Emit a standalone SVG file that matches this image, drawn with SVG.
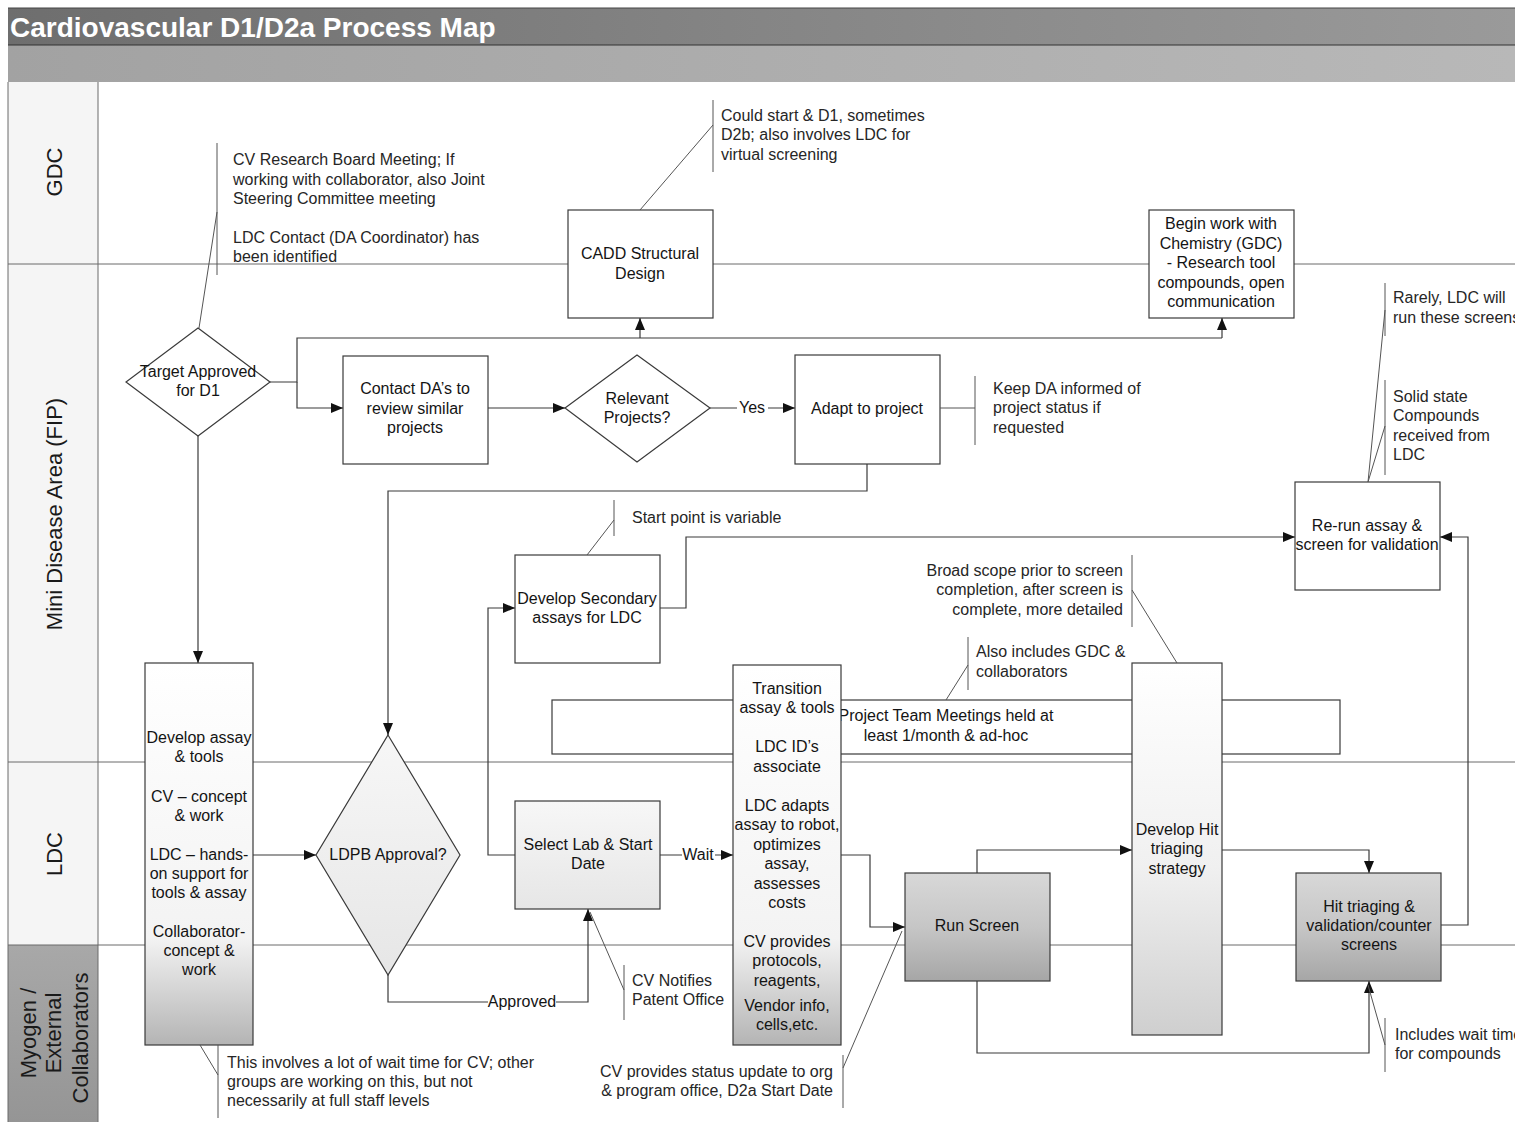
<svg xmlns="http://www.w3.org/2000/svg" width="1515" height="1122" viewBox="0 0 1515 1122">
<defs>
<style>
.t{font-family:"Liberation Sans",Arial,sans-serif;font-size:16px;fill:#141414;text-anchor:middle}
.a{font-family:"Liberation Sans",Arial,sans-serif;font-size:16px;fill:#262626}
.e{text-anchor:end}
.lane{font-family:"Liberation Sans",Arial,sans-serif;font-size:22px;fill:#1a1a1a;text-anchor:middle}
.box{stroke:#3a3a3a;stroke-width:1.2}
.c{fill:none;stroke:#3a3a3a;stroke-width:1.2}
.ca{fill:none;stroke:#3a3a3a;stroke-width:1.2;marker-end:url(#ah)}
.n{fill:none;stroke:#555;stroke-width:1}
.ll{stroke:#6a6a6a;stroke-width:1}
</style>
<marker id="ah" markerUnits="userSpaceOnUse" markerWidth="14" markerHeight="12" refX="12" refY="5" orient="auto">
<path d="M0,0 L12,5 L0,10 z" fill="#111"/>
</marker>
<linearGradient id="hdr1" x1="0" y1="0" x2="1" y2="0"><stop offset="0" stop-color="#6e6e6e"/><stop offset="0.5" stop-color="#858585"/><stop offset="1" stop-color="#9a9a9a"/></linearGradient>
<linearGradient id="hdr2" x1="0" y1="0" x2="1" y2="0"><stop offset="0" stop-color="#a2a2a2"/><stop offset="1" stop-color="#b8b8b8"/></linearGradient>
<linearGradient id="tall" x1="0" y1="0" x2="0" y2="1"><stop offset="0" stop-color="#ffffff"/><stop offset="0.72" stop-color="#f3f3f3"/><stop offset="1" stop-color="#b4b4b4"/></linearGradient>
<linearGradient id="tall2" x1="0" y1="0" x2="0" y2="1"><stop offset="0" stop-color="#ffffff"/><stop offset="0.55" stop-color="#f0f0f0"/><stop offset="1" stop-color="#cfcfcf"/></linearGradient>
<linearGradient id="gray" x1="0" y1="0" x2="0" y2="1"><stop offset="0" stop-color="#d8d8d8"/><stop offset="0.5" stop-color="#c6c6c6"/><stop offset="1" stop-color="#a6a6a6"/></linearGradient>
<linearGradient id="lite" x1="0" y1="0" x2="0" y2="1"><stop offset="0" stop-color="#f7f7f7"/><stop offset="1" stop-color="#e6e6e6"/></linearGradient>
<linearGradient id="myo" x1="0" y1="0" x2="0" y2="1"><stop offset="0" stop-color="#a8a8a8"/><stop offset="1" stop-color="#959595"/></linearGradient>
</defs>
<rect x="0" y="0" width="1515" height="1122" fill="#fff"/>

<g id="header">
<rect x="8" y="8" width="1507" height="37" fill="url(#hdr1)"/>
<rect x="8" y="45" width="1507" height="37" fill="url(#hdr2)"/>
<line x1="8" y1="45" x2="1515" y2="45" stroke="#333" stroke-width="1"/>
<line x1="8" y1="8" x2="1515" y2="8" stroke="#444" stroke-width="1"/>
<text x="10" y="37" font-family="Liberation Sans,Arial,sans-serif" font-size="28" font-weight="bold" fill="#fff">Cardiovascular D1/D2a Process Map</text>
</g>

<g id="lanes">
<rect x="8" y="82" width="90" height="863" fill="#f5f5f5"/>
<rect x="8" y="945" width="90" height="177" fill="url(#myo)"/>
<line class="ll" x1="8" y1="82" x2="8" y2="1122"/>
<line class="ll" x1="98" y1="82" x2="98" y2="1122"/>
<line class="ll" x1="8" y1="264" x2="1515" y2="264"/>
<line class="ll" x1="8" y1="762" x2="1515" y2="762"/>
<line class="ll" x1="8" y1="945" x2="1515" y2="945"/>
<text class="lane" transform="translate(62,172) rotate(-90)">GDC</text>
<text class="lane" font-size="23.5" transform="translate(62,514) rotate(-90)">Mini Disease Area (FIP)</text>
<text class="lane" transform="translate(62,854) rotate(-90)">LDC</text>
<text class="lane" font-size="21" transform="translate(36,1033) rotate(-90)">Myogen /</text>
<text class="lane" font-size="21" transform="translate(61,1033) rotate(-90)">External</text>
<text class="lane" font-size="21" transform="translate(88,1038) rotate(-90)">Collaborators</text>
</g>

<g id="project-team-meetings">
<rect class="box" x="552" y="700" width="788" height="54" fill="#fff"/>
<text class="t" x="946" y="721">Project Team Meetings held at</text>
<text class="t" x="946" y="741">least 1/month &amp; ad-hoc</text>
</g>

<g id="connectors">
<polyline class="c" points="270,382 297,382 297,338 1222,338"/>
<line class="ca" x1="1222" y1="338" x2="1222" y2="318"/>
<line class="ca" x1="640" y1="338" x2="640" y2="318"/>
<polyline class="ca" points="297,382 297,408 343,408"/>
<line class="ca" x1="488" y1="408" x2="565" y2="408"/>
<line class="ca" x1="710" y1="408" x2="795" y2="408"/>
<polyline class="ca" points="867,464 867,491 388,491 388,735"/>
<line class="ca" x1="198" y1="436" x2="198" y2="663"/>
<line class="ca" x1="253" y1="855" x2="316" y2="855"/>
<polyline class="ca" points="388,975 388,1002 588,1002 588,909"/>
<polyline class="ca" points="515,855 488,855 488,608 515,608"/>
<line class="ca" x1="660" y1="855" x2="733" y2="855"/>
<polyline class="ca" points="660,608 686,608 686,537 1295,537"/>
<polyline class="ca" points="841,855 870,855 870,927 905,927"/>
<polyline class="ca" points="977,873 977,850 1132,850"/>
<polyline class="ca" points="1222,850 1369,850 1369,873"/>
<polyline class="ca" points="977,981 977,1053 1369,1053 1369,981"/>
<polyline class="ca" points="1441,925 1468,925 1468,537 1440,537"/>
<rect x="737" y="399" width="31" height="18" fill="#fff"/>
<text class="t" x="752" y="413">Yes</text>
<rect x="682" y="846" width="33" height="18" fill="#fff"/>
<text class="t" x="698" y="860">Wait</text>
<rect x="488" y="993" width="68" height="18" fill="#fff"/>
<text class="t" x="522" y="1007">Approved</text>
</g>

<g id="target-approved">
<polygon class="box" points="198,328 270,382 198,436 126,382" fill="#fff"/>
<text class="t" x="198" y="377">Target Approved</text>
<text class="t" x="198" y="396">for D1</text>
</g>
<g id="contact-da">
<rect class="box" x="343" y="356" width="145" height="108" fill="#fff"/>
<text class="t" x="415" y="394">Contact DA’s to</text>
<text class="t" x="415" y="414">review similar</text>
<text class="t" x="415" y="433">projects</text>
</g>
<g id="relevant-projects">
<polygon class="box" points="637,355 710,408 637,462 565,408" fill="#fff"/>
<text class="t" x="637" y="404">Relevant</text>
<text class="t" x="637" y="423">Projects?</text>
</g>
<g id="adapt-to-project">
<rect class="box" x="795" y="355" width="145" height="109" fill="#fff"/>
<text class="t" x="867" y="414">Adapt to project</text>
</g>
<g id="cadd">
<rect class="box" x="568" y="210" width="145" height="108" fill="#fff"/>
<text class="t" x="640" y="259">CADD Structural</text>
<text class="t" x="640" y="279">Design</text>
</g>
<g id="begin-work">
<rect class="box" x="1149" y="210" width="145" height="108" fill="#fff"/>
<text class="t" x="1221" y="229">Begin work with</text>
<text class="t" x="1221" y="249">Chemistry (GDC)</text>
<text class="t" x="1221" y="268">- Research tool</text>
<text class="t" x="1221" y="288">compounds, open</text>
<text class="t" x="1221" y="307">communication</text>
</g>
<g id="develop-secondary">
<rect class="box" x="515" y="555" width="145" height="108" fill="#fff"/>
<text class="t" x="587" y="604">Develop Secondary</text>
<text class="t" x="587" y="623">assays for LDC</text>
</g>
<g id="re-run-assay">
<rect class="box" x="1295" y="482" width="145" height="108" fill="#fff"/>
<text class="t" x="1367" y="531">Re-run assay &amp;</text>
<text class="t" x="1367" y="550">screen for validation</text>
</g>
<g id="develop-assay">
<rect class="box" x="145" y="663" width="108" height="382" fill="url(#tall)"/>
<text class="t" x="199" y="743">Develop assay</text>
<text class="t" x="199" y="762">&amp; tools</text>
<text class="t" x="199" y="802">CV – concept</text>
<text class="t" x="199" y="821">&amp; work</text>
<text class="t" x="199" y="860">LDC – hands-</text>
<text class="t" x="199" y="879">on support for</text>
<text class="t" x="199" y="898">tools &amp; assay</text>
<text class="t" x="199" y="937">Collaborator-</text>
<text class="t" x="199" y="956">concept &amp;</text>
<text class="t" x="199" y="975">work</text>
</g>
<g id="ldpb-approval">
<polygon class="box" points="388,735 460,855 388,975 316,855" fill="url(#lite)"/>
<text class="t" x="388" y="860">LDPB Approval?</text>
</g>
<g id="select-lab">
<rect class="box" x="515" y="801" width="145" height="108" fill="url(#lite)"/>
<text class="t" x="588" y="850">Select Lab &amp; Start</text>
<text class="t" x="588" y="869">Date</text>
</g>
<g id="transition">
<rect class="box" x="733" y="665" width="108" height="380" fill="url(#tall)"/>
<text class="t" x="787" y="694">Transition</text>
<text class="t" x="787" y="713">assay &amp; tools</text>
<text class="t" x="787" y="752">LDC ID’s</text>
<text class="t" x="787" y="772">associate</text>
<text class="t" x="787" y="811">LDC adapts</text>
<text class="t" x="787" y="830">assay to robot,</text>
<text class="t" x="787" y="850">optimizes</text>
<text class="t" x="787" y="869">assay,</text>
<text class="t" x="787" y="889">assesses</text>
<text class="t" x="787" y="908">costs</text>
<text class="t" x="787" y="947">CV provides</text>
<text class="t" x="787" y="966">protocols,</text>
<text class="t" x="787" y="986">reagents,</text>
<text class="t" x="787" y="1011">Vendor info,</text>
<text class="t" x="787" y="1030">cells,etc.</text>
</g>
<g id="develop-hit">
<rect class="box" x="1132" y="663" width="90" height="372" fill="url(#tall2)"/>
<text class="t" x="1177" y="835">Develop Hit</text>
<text class="t" x="1177" y="854">triaging</text>
<text class="t" x="1177" y="874">strategy</text>
</g>
<g id="run-screen">
<rect class="box" x="905" y="873" width="145" height="108" fill="url(#gray)"/>
<text class="t" x="977" y="931">Run Screen</text>
</g>
<g id="hit-triaging">
<rect class="box" x="1296" y="873" width="145" height="108" fill="url(#gray)"/>
<text class="t" x="1369" y="912">Hit triaging &amp;</text>
<text class="t" x="1369" y="931">validation/counter</text>
<text class="t" x="1369" y="950">screens</text>
</g>

<g id="annotations">
<line class="n" x1="217" y1="143" x2="217" y2="275"/>
<line class="n" x1="217" y1="212" x2="199" y2="328"/>
<text class="a" x="233" y="165">CV Research Board Meeting; If</text>
<text class="a" x="233" y="185">working with collaborator, also Joint</text>
<text class="a" x="233" y="204">Steering Committee meeting</text>
<text class="a" x="233" y="243">LDC Contact (DA Coordinator) has</text>
<text class="a" x="233" y="262">been identified</text>

<line class="n" x1="713" y1="100" x2="713" y2="172"/>
<line class="n" x1="713" y1="125" x2="640" y2="210"/>
<text class="a" x="721" y="121">Could start &amp; D1, sometimes</text>
<text class="a" x="721" y="140">D2b; also involves LDC for</text>
<text class="a" x="721" y="160">virtual screening</text>

<line class="n" x1="975" y1="376" x2="975" y2="445"/>
<line class="n" x1="940" y1="408" x2="975" y2="408"/>
<text class="a" x="993" y="394">Keep DA informed of</text>
<text class="a" x="993" y="413">project status if</text>
<text class="a" x="993" y="433">requested</text>

<line class="n" x1="614" y1="500" x2="614" y2="536"/>
<line class="n" x1="614" y1="520" x2="587" y2="555"/>
<text class="a" x="632" y="523">Start point is variable</text>

<line class="n" x1="1385" y1="283" x2="1385" y2="336"/>
<line class="n" x1="1385" y1="310" x2="1368" y2="482"/>
<text class="a" x="1393" y="303">Rarely, LDC will</text>
<text class="a" x="1393" y="323">run these screens</text>

<line class="n" x1="1385" y1="380" x2="1385" y2="475"/>
<line class="n" x1="1385" y1="426" x2="1368" y2="482"/>
<text class="a" x="1393" y="402">Solid state</text>
<text class="a" x="1393" y="421">Compounds</text>
<text class="a" x="1393" y="441">received from</text>
<text class="a" x="1393" y="460">LDC</text>

<line class="n" x1="1132" y1="555" x2="1132" y2="627"/>
<line class="n" x1="1132" y1="590" x2="1177" y2="663"/>
<text class="a e" x="1123" y="576">Broad scope prior to screen</text>
<text class="a e" x="1123" y="595">completion, after screen is</text>
<text class="a e" x="1123" y="615">complete, more detailed</text>

<line class="n" x1="968" y1="637" x2="968" y2="690"/>
<line class="n" x1="968" y1="665" x2="946" y2="700"/>
<text class="a" x="976" y="657">Also includes GDC &amp;</text>
<text class="a" x="976" y="677">collaborators</text>

<line class="n" x1="624" y1="965" x2="624" y2="1020"/>
<line class="n" x1="624" y1="990" x2="590" y2="912"/>
<text class="a" x="632" y="986">CV Notifies</text>
<text class="a" x="632" y="1005">Patent Office</text>

<line class="n" x1="218" y1="1045" x2="218" y2="1118"/>
<line class="n" x1="218" y1="1075" x2="200" y2="1045"/>
<text class="a" x="227" y="1068">This involves a lot of wait time for CV; other</text>
<text class="a" x="227" y="1087">groups are working on this, but not</text>
<text class="a" x="227" y="1106">necessarily at full staff levels</text>

<line class="n" x1="843" y1="1055" x2="843" y2="1108"/>
<line class="n" x1="843" y1="1068" x2="902" y2="931"/>
<text class="a e" x="833" y="1077">CV provides status update to org</text>
<text class="a e" x="833" y="1096">&amp; program office, D2a Start Date</text>

<line class="n" x1="1385" y1="1018" x2="1385" y2="1072"/>
<line class="n" x1="1385" y1="1045" x2="1368" y2="985"/>
<text class="a" x="1395" y="1040">Includes wait time</text>
<text class="a" x="1395" y="1059">for compounds</text>
</g>
</svg>
